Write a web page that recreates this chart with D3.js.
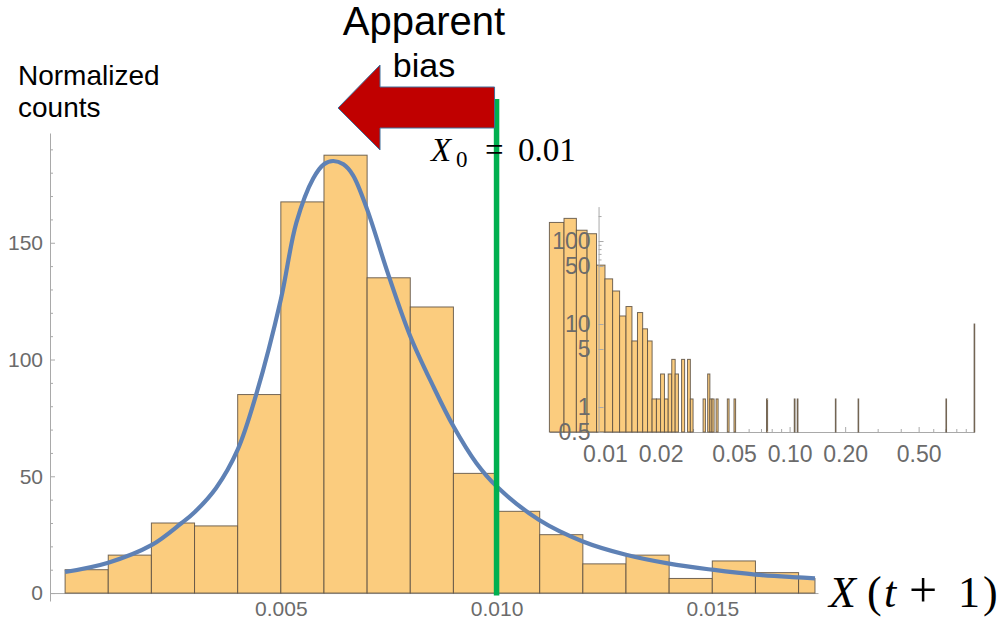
<!DOCTYPE html>
<html><head><meta charset="utf-8">
<script src="https://cdn.jsdelivr.net/npm/d3@7"></script>
<style>body{margin:0;background:#fff} svg{display:block}</style>
</head><body>
<svg id="c" width="999" height="626"></svg>
<script>
// ---------------- data ----------------
const binWidth = 0.001;
const mainBinStarts = [0.000,0.001,0.002,0.003,0.004,0.005,0.006,0.007,0.008,0.009,0.010,0.011,0.012,0.013,0.014,0.015,0.016,0.017];
const mainCounts    = [10, 16.25, 30, 28.75, 85, 167.5, 187.5, 135, 122.5, 51.25, 35, 25, 12.5, 16.25, 6.25, 13.75, 8.75, 6.25];
// fitted density curve
const curveX = [0.0000,0.0010,0.0020,0.0027,0.0030,0.0035,0.0040,0.00444,0.0050,0.00536,0.00575,0.0060,0.00621,0.00645,0.00667,0.0070,0.00748,0.0080,0.00853,0.0090,0.00953,0.0100,0.01098,0.0120,0.0130,0.0140,0.0150,0.0160,0.0170,0.01738];
const curveY = [9.0,13.0,20.5,30.0,34.6,45,61.4,85.7,125.7,158.6,177.5,183.6,185,183.6,179,164.3,137,110,88.6,71.4,55.7,45.7,31.4,22.1,16.4,12.6,10.0,7.9,6.7,6.3];
// inset tail (bins beyond the main plot range, width 0.001)
const tailStarts = [0.018,0.019,0.020,0.021,0.022,0.023,0.024,0.026,0.028,0.029,0.034,0.036,0.037,0.038,0.040,0.046,0.050,0.075,0.106,0.110,0.177,0.235,0.703,0.999];
const tailCounts = [1.25,1.25,2.5,1.25,2.5,3.75,2.5,3.75,3.75,1.25,1.25,2.5,1.25,1.25,1.25,1.25,1.25,1.25,1.25,1.25,1.25,1.25,1.25,10];
const mainYTicks = [0,50,100,150];
const mainYTickLabels = ["0","50","100","150"];
const mainXTicks = [0.005,0.010,0.015];
const mainXTickLabels = ["0.005","0.010","0.015"];
const insetXTicks = [0.01,0.02,0.05,0.1,0.2,0.5];
const insetXTickLabels = ["0.01","0.02","0.05","0.10","0.20","0.50"];
const insetYTicks = [0.5,1,5,10,50,100];
const insetYTickLabels = ["0.5","1","5","10","50","100"];
const x0Value = 0.01;

// ---------------- drawing ----------------
const svg = d3.select("#c");
const sans = "'Liberation Sans', Arial, sans-serif";
const serif = "'Liberation Serif', 'Times New Roman', serif";
const axisCol = "#a9a9a9", labCol = "#6b6b6b";
const barFill = "#FBCC7E", barStroke = "#5a4f42";

const xMain = d3.scaleLinear().domain([-0.00035, 0.01745]).range([50, 818]);
const yMain = d3.scaleLinear().domain([-3.4, 197]).range([601, 133]);
const xClipMax = 0.01738;

function styleAxis(g, fs){
  g.select(".domain").attr("stroke", axisCol).attr("stroke-width",1);
  g.selectAll(".tick line").attr("stroke", axisCol);
  g.selectAll(".tick text").attr("fill", labCol).style("font-family", sans).style("font-size", fs+"px");
}

// main y axis
const gy = svg.append("g").attr("transform",`translate(${xMain.range()[0]},0)`)
  .call(d3.axisLeft(yMain).tickValues(mainYTicks).tickSizeInner(-5).tickSizeOuter(0).tickPadding(7)
        .tickFormat((d,i)=>mainYTickLabels[i]));
styleAxis(gy, 21);
const gyMinor = svg.append("g").attr("transform",`translate(${xMain.range()[0]},0)`)
  .call(d3.axisLeft(yMain).tickValues(d3.range(10,197,10).filter(v=>v%50!==0)).tickSize(-3).tickFormat(""));
gyMinor.select(".domain").remove(); gyMinor.selectAll(".tick line").attr("stroke", axisCol);

// main x axis
const gx = svg.append("g").attr("transform",`translate(0,${yMain(0)})`)
  .call(d3.axisBottom(xMain).tickValues(mainXTicks).tickSizeInner(-5).tickSizeOuter(0).tickPadding(8)
        .tickFormat((d,i)=>mainXTickLabels[i]));
styleAxis(gx, 21);

// main bars
svg.append("g").selectAll("rect").data(mainBinStarts).join("rect")
  .attr("x", d=>xMain(d))
  .attr("y", (d,i)=>yMain(mainCounts[i]))
  .attr("width", d=>xMain(Math.min(d+binWidth, xClipMax))-xMain(d))
  .attr("height", (d,i)=>yMain(0)-yMain(mainCounts[i]))
  .attr("fill", barFill).attr("stroke", barStroke).attr("stroke-opacity",0.85).attr("stroke-width",1);

// fitted curve
const curvePts = curveX.map((x,i)=>[x, curveY[i]]);
svg.append("path").datum(curvePts)
  .attr("d", d3.line().x(d=>xMain(d[0])).y(d=>yMain(d[1])).curve(d3.curveCatmullRom.alpha(0.5)))
  .attr("fill","none").attr("stroke","#5E81B5").attr("stroke-width",4.2).attr("stroke-linecap","butt");

// green X0 line
svg.append("line").attr("x1",xMain(x0Value)).attr("x2",xMain(x0Value)).attr("y1",99).attr("y2",yMain(-1))
  .attr("stroke","#00B050").attr("stroke-width",5.5);

// ---------------- inset ----------------
const xIn = d3.scaleLog().domain([0.005, 1.0]).range([549.4, 974.2]);
const yIn = d3.scaleLog().domain([0.5, 260]).range([432, 206.6]);
const inAxisX = 0.00923;

const insetBins = mainBinStarts.map((s,i)=>({s, v: mainCounts[i]})).filter(d=>d.s>=0.005)
  .concat(tailStarts.map((s,i)=>({s, v: tailCounts[i]})));

const gix = svg.append("g").attr("transform",`translate(0,${yIn(0.5)})`)
  .call(d3.axisBottom(xIn).tickValues(insetXTicks).tickSizeInner(-5).tickSizeOuter(0).tickPadding(14)
        .tickFormat((d,i)=>insetXTickLabels[i]));
styleAxis(gix, 23);
const minorX = [0.006,0.007,0.008,0.009,0.03,0.04,0.06,0.07,0.08,0.09,0.3,0.4,0.6,0.7,0.8,0.9];
const gixm = svg.append("g").attr("transform",`translate(0,${yIn(0.5)})`)
  .call(d3.axisBottom(xIn).tickValues(minorX.filter(v=>v>inAxisX)).tickSize(-3).tickFormat(""));
gixm.select(".domain").remove(); gixm.selectAll(".tick line").attr("stroke", axisCol);

const giy = svg.append("g").attr("transform",`translate(${xIn(inAxisX)},0)`)
  .call(d3.axisLeft(yIn).tickValues(insetYTicks).tickSizeInner(-5).tickSizeOuter(0).tickPadding(8)
        .tickFormat((d,i)=>insetYTickLabels[i]));
styleAxis(giy, 23);
const minorY = [2,3,4,6,7,8,9,20,30,40,60,70,80,90,200];
const giym = svg.append("g").attr("transform",`translate(${xIn(inAxisX)},0)`)
  .call(d3.axisLeft(yIn).tickValues(minorY).tickSize(-3).tickFormat(""));
giym.select(".domain").remove(); giym.selectAll(".tick line").attr("stroke", axisCol);

svg.append("g").selectAll("rect").data(insetBins).join("rect")
  .attr("x", d=>xIn(d.s))
  .attr("y", d=>yIn(d.v))
  .attr("width", d=>Math.max(xIn(d.s+binWidth)-xIn(d.s), 0.6))
  .attr("height", d=>yIn(0.5)-yIn(d.v))
  .attr("fill", barFill).attr("stroke", barStroke).attr("stroke-opacity",0.85).attr("stroke-width",1);

// inset y labels drawn on top of bars
giy.raise();

// ---------------- annotations ----------------
svg.append("text").attr("x",18).attr("y",85).text("Normalized")
  .style("font-family",sans).style("font-size","28px").attr("fill","#000");
svg.append("text").attr("x",18).attr("y",117).text("counts")
  .style("font-family",sans).style("font-size","28px").attr("fill","#000");

svg.append("text").attr("x",424).attr("y",35).attr("text-anchor","middle").text("Apparent")
  .style("font-family",sans).style("font-size","40px").attr("fill","#000");
svg.append("text").attr("x",424).attr("y",77).attr("text-anchor","middle").text("bias")
  .style("font-family",sans).style("font-size","34px").attr("fill","#000");

// red arrow pointing left from the X0 line
const ax = xMain(x0Value) - 2;
const arrow = [[ax,87],[380,87],[380,65],[338,108],[380,150],[380,128],[ax,128]];
svg.append("path").attr("d", d3.line()(arrow)+"Z")
  .attr("fill","#C00000").attr("stroke","#41719C").attr("stroke-width",1);

// X_0 = 0.01
const t0 = svg.append("text").attr("y",161).style("font-family",serif).style("font-size","33px").attr("fill","#000");
t0.append("tspan").attr("x",431).style("font-style","italic").text("X");
t0.append("tspan").attr("x",456).attr("dy",6).style("font-size","23px").text("0");
t0.append("tspan").attr("x",485).attr("dy",-6).text("=");
t0.append("tspan").attr("x",518).text("0.01");

// X(t+1)
const t1 = svg.append("text").attr("y",607).style("font-family",serif).style("font-size","44px").attr("fill","#000");
t1.append("tspan").attr("x",829).style("font-style","italic").text("X");
t1.append("tspan").attr("x",867).text("(");
t1.append("tspan").attr("x",884).style("font-style","italic").text("t");
t1.append("tspan").attr("x",909).style("font-size","50px").text("+");
t1.append("tspan").attr("x",958).text("1");
t1.append("tspan").attr("x",983).text(")");
</script>
</body></html>
